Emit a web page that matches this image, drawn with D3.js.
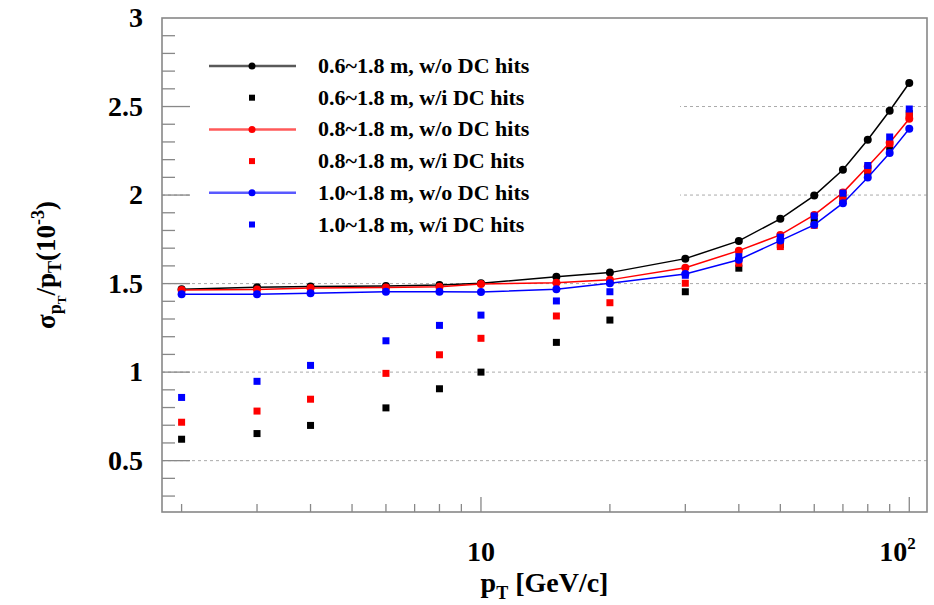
<!DOCTYPE html>
<html>
<head>
<meta charset="utf-8">
<script src="https://cdn.jsdelivr.net/npm/d3@7"></script>
<style>
  body { margin: 0; background: #fff; }
  svg text { font-family: "Liberation Serif", Tinos, "Times New Roman", Times, serif; font-weight: 700; }
</style>
</head>
<body>
<svg id="chart" width="934" height="605"></svg>
<script>
// pT values (GeV/c)
const ptValues = [2, 3, 4, 6, 8, 10, 15, 20, 30, 40, 50, 60, 70, 80, 90, 100];

// sigma(pT)/pT in 10^-3
const r06NoDC = [1.468, 1.479, 1.483, 1.486, 1.492, 1.502, 1.539, 1.562, 1.641, 1.741, 1.866, 1.997, 2.143, 2.312, 2.476, 2.633];
const r06DC   = [0.621, 0.653, 0.699, 0.798, 0.906, 1.000, 1.168, 1.294, 1.454, 1.587, 1.720, 1.850, 1.980, 2.130, 2.270, 2.460];
const r08NoDC = [1.464, 1.466, 1.475, 1.478, 1.482, 1.498, 1.505, 1.521, 1.590, 1.686, 1.775, 1.888, 2.014, 2.161, 2.296, 2.431];
const r08DC   = [0.717, 0.780, 0.847, 0.993, 1.098, 1.191, 1.317, 1.392, 1.502, 1.615, 1.709, 1.829, 1.973, 2.140, 2.290, 2.450];
const r10NoDC = [1.440, 1.440, 1.445, 1.454, 1.454, 1.453, 1.468, 1.502, 1.554, 1.635, 1.743, 1.832, 1.954, 2.099, 2.237, 2.375];
const r10DC   = [0.857, 0.948, 1.038, 1.177, 1.264, 1.322, 1.402, 1.454, 1.547, 1.652, 1.762, 1.882, 2.011, 2.167, 2.328, 2.486];

const seriesNames = [
  "0.6~1.8 m, w/o DC hits", "0.6~1.8 m, w/i DC hits",
  "0.8~1.8 m, w/o DC hits", "0.8~1.8 m, w/i DC hits",
  "1.0~1.8 m, w/o DC hits", "1.0~1.8 m, w/i DC hits"
];
const seriesValues = [r06NoDC, r06DC, r08NoDC, r08DC, r10NoDC, r10DC];
const seriesColors = ["#000000", "#000000", "#ff0000", "#ff0000", "#0000ff", "#0000ff"];
const seriesKinds = ["line", "square", "line", "square", "line", "square"];

const yMajorTicks = [0.5, 1, 1.5, 2, 2.5, 3];
const xMajorTicks = [10, 100];

const svg = d3.select("#chart");
const mLeft = 162, mRight = 927, mTop = 18, mBottom = 512;

const x = d3.scaleLog().domain([1.8, 110]).range([mLeft, mRight]);
const y = d3.scaleLinear().domain([0.21, 3]).range([mBottom, mTop]);

const axisColor = "#888";

// grid lines at major y ticks
svg.append("g").selectAll("line")
  .data(yMajorTicks.filter(v => v < 3))
  .enter().append("line")
  .attr("x1", mLeft).attr("x2", mRight)
  .attr("y1", d => y(d)).attr("y2", d => y(d))
  .attr("stroke", "#aaa").attr("stroke-width", 1)
  .attr("stroke-dasharray", "3,3");

// legend background (covers grid)
const legend = svg.append("g");
legend.append("rect")
  .attr("x", 192).attr("y", 48).attr("width", 488).attr("height", 192)
  .attr("fill", "#fff");

// y axis ticks
const yMinor = d3.range(3, 30).map(i => i / 10).filter(v => y(v) < mBottom - 1 && !yMajorTicks.some(m => Math.abs(m - v) < 1e-6));
svg.append("g").selectAll("line")
  .data(yMinor).enter().append("line")
  .attr("x1", mLeft).attr("x2", mLeft + 13)
  .attr("y1", d => y(d)).attr("y2", d => y(d))
  .attr("stroke", axisColor).attr("stroke-width", 1.3);
svg.append("g").selectAll("line")
  .data(yMajorTicks.filter(v => v < 3)).enter().append("line")
  .attr("x1", mLeft).attr("x2", mLeft + 28)
  .attr("y1", d => y(d)).attr("y2", d => y(d))
  .attr("stroke", axisColor).attr("stroke-width", 1.3);
svg.append("g").selectAll("text")
  .data(yMajorTicks).enter().append("text")
  .attr("x", mLeft - 19).attr("y", d => y(d) + 9)
  .attr("text-anchor", "end")
  .attr("font-size", 28)
  .text(d => d);

// x axis ticks
const xMinor = [2, 3, 4, 5, 6, 7, 8, 9, 20, 30, 40, 50, 60, 70, 80, 90];
svg.append("g").selectAll("line")
  .data(xMinor).enter().append("line")
  .attr("x1", d => x(d)).attr("x2", d => x(d))
  .attr("y1", mBottom).attr("y2", mBottom - 8)
  .attr("stroke", axisColor).attr("stroke-width", 1.3);
svg.append("g").selectAll("line")
  .data(xMajorTicks).enter().append("line")
  .attr("x1", d => x(d)).attr("x2", d => x(d))
  .attr("y1", mBottom).attr("y2", mBottom - 15)
  .attr("stroke", axisColor).attr("stroke-width", 1.3);

svg.append("text")
  .attr("x", x(10)).attr("y", mBottom + 49)
  .attr("text-anchor", "middle").attr("font-size", 28)
  .text("10");
const t100 = svg.append("text")
  .attr("x", x(100) - 30).attr("y", mBottom + 49)
  .attr("font-size", 28);
t100.append("tspan").text("10");
t100.append("tspan").attr("font-size", 17).attr("dy", -12).text("2");

// frame
svg.append("rect")
  .attr("x", mLeft).attr("y", mTop)
  .attr("width", mRight - mLeft).attr("height", mBottom - mTop)
  .attr("fill", "none").attr("stroke", axisColor).attr("stroke-width", 1.6);

// axis titles
const xt = svg.append("text")
  .attr("x", (mLeft + mRight) / 2).attr("y", 592)
  .attr("text-anchor", "middle").attr("font-size", 28);
xt.append("tspan").text("p");
xt.append("tspan").attr("font-size", 18).attr("dy", 7).text("T");
xt.append("tspan").attr("dy", -7).text(" [GeV/c]");

const yt = svg.append("text")
  .attr("transform", `translate(55,${(mTop + mBottom) / 2}) rotate(-90)`)
  .attr("text-anchor", "middle").attr("font-size", 27);
yt.append("tspan").text("σ");
yt.append("tspan").attr("font-size", 18).attr("dy", 6).text("p");
yt.append("tspan").attr("font-size", 13).attr("dy", 5).text("T");
yt.append("tspan").attr("dy", -11).text("/p");
yt.append("tspan").attr("font-size", 18).attr("dy", 6).text("T");
yt.append("tspan").attr("dy", -6).text("(10");
yt.append("tspan").attr("font-size", 18).attr("dy", -11).text("-3");
yt.append("tspan").attr("dy", 11).text(")");

// data series
const lineGen = d3.line()
  .x((d, i) => x(ptValues[i]))
  .y(d => y(d));

const plot = svg.append("g");
seriesValues.forEach((vals, s) => {
  const col = seriesColors[s];
  if (seriesKinds[s] === "line") {
    plot.append("path")
      .attr("d", lineGen(vals))
      .attr("fill", "none").attr("stroke", col).attr("stroke-width", 1.5);
    plot.append("g").selectAll("circle")
      .data(vals).enter().append("circle")
      .attr("cx", (d, i) => x(ptValues[i])).attr("cy", d => y(d))
      .attr("r", 4).attr("fill", col);
  } else {
    plot.append("g").selectAll("rect")
      .data(vals).enter().append("rect")
      .attr("x", (d, i) => x(ptValues[i]) - 3.5).attr("y", d => y(d) - 3.5)
      .attr("width", 7).attr("height", 7).attr("fill", col);
  }
});

// legend entries
seriesNames.forEach((name, s) => {
  const ly = 66 + s * 31.7;
  const col = seriesColors[s];
  if (seriesKinds[s] === "line") {
    legend.append("line")
      .attr("x1", 209).attr("x2", 296).attr("y1", ly).attr("y2", ly)
      .attr("stroke", col).attr("stroke-width", 2.5).attr("stroke-opacity", 0.65);
    legend.append("circle").attr("cx", 252).attr("cy", ly).attr("r", 3.5).attr("fill", col);
  } else {
    legend.append("rect").attr("x", 249).attr("y", ly - 3).attr("width", 6).attr("height", 6).attr("fill", col);
  }
  legend.append("text")
    .attr("x", 318).attr("y", ly + 7)
    .attr("font-size", 22)
    .text(name);
});
</script>
</body>
</html>
